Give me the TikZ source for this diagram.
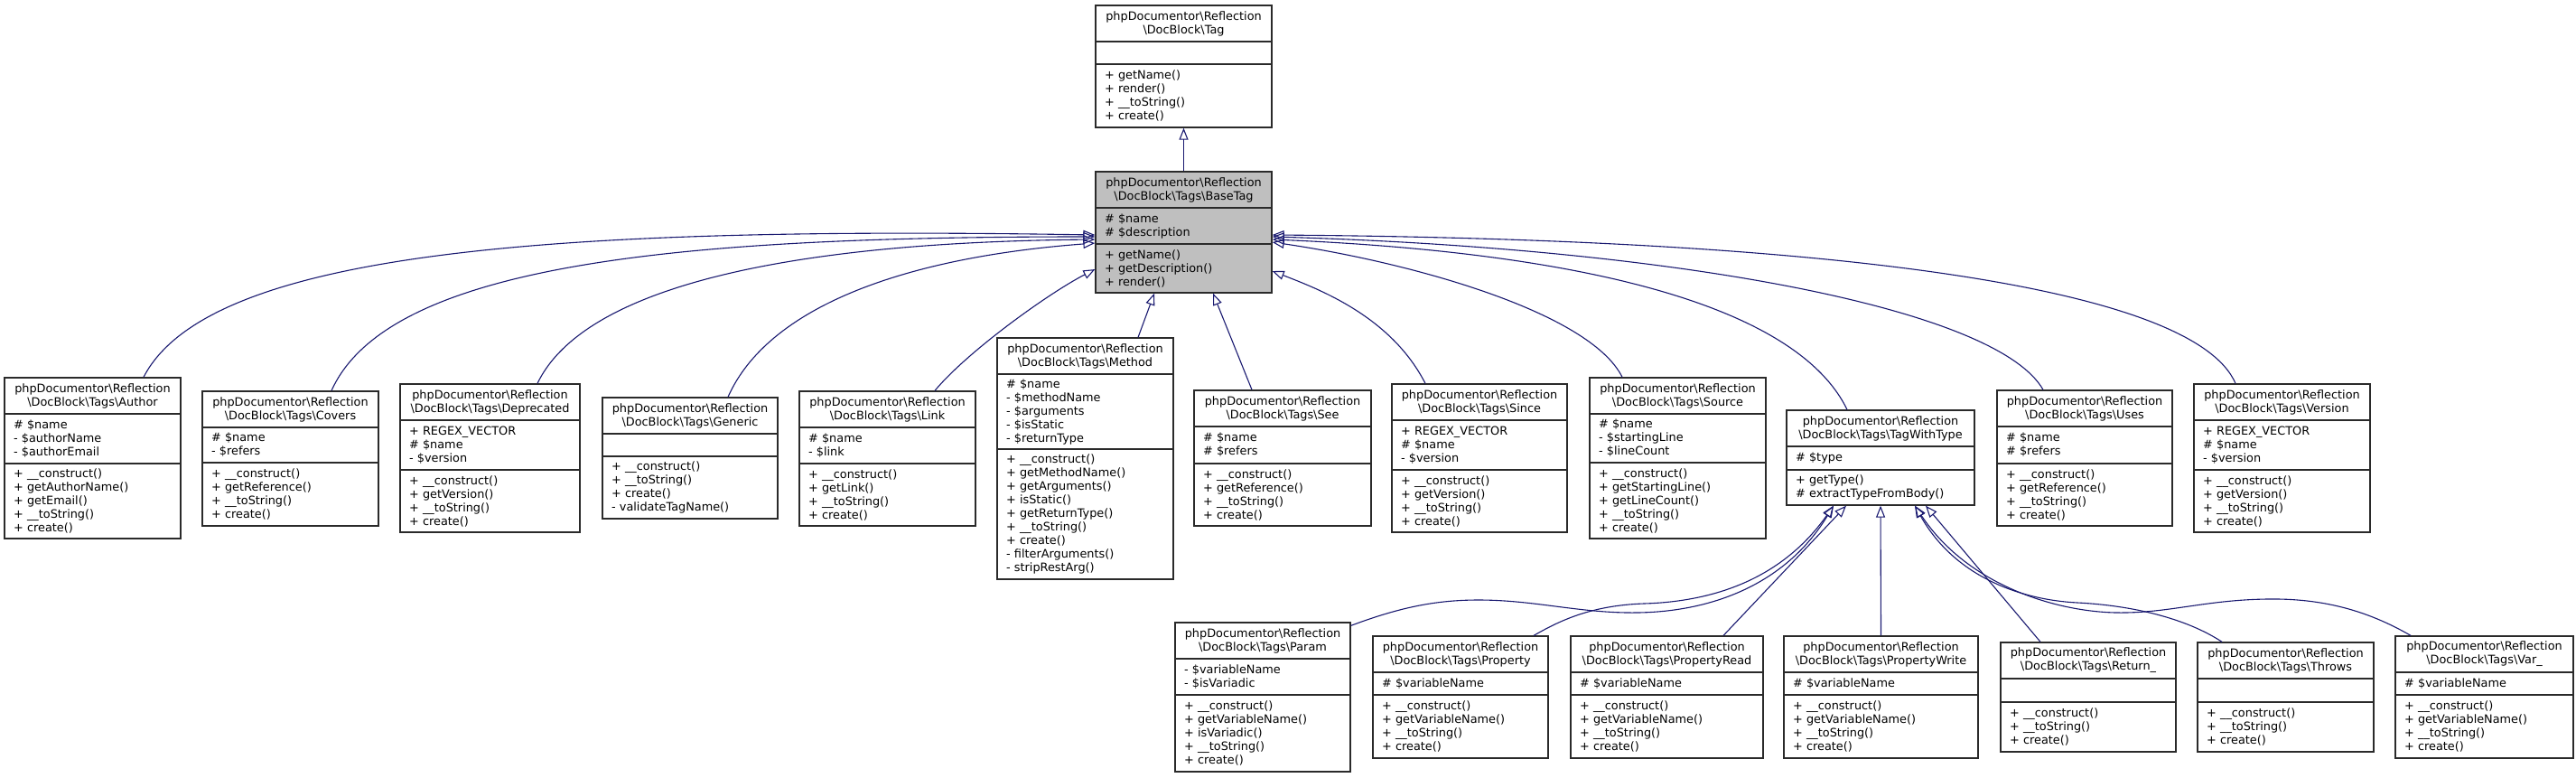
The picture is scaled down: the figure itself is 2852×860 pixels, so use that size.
\documentclass[tikz,border=0pt]{standalone}
\usepackage{fontspec}
\setmainfont{DejaVu Sans}
\usetikzlibrary{arrows.meta,fit}
\definecolor{edgeblue}{HTML}{191970}
\definecolor{basegray}{HTML}{BFBFBF}
\definecolor{boxline}{HTML}{2A2A2A}
\tikzset{
  classbox/.style={draw=boxline, line width=1.3pt, fill=white, inner sep=0pt},
  sectionline/.style={draw=boxline, line width=1.3pt},
  titletext/.style={inner sep=0pt, align=center},
  membertext/.style={inner sep=0pt, align=left, anchor=west},
  inherit/.style={draw=edgeblue, line width=1.1pt, -{Triangle[open, length=13pt, width=10pt]}},
}
% name, left, right, top, attr-line, bottom, title line 2, attributes, operations
\newcommand\umlclass[9]{%
  \node[classbox, fit={(#2,#4) (#3,#6)}] (#1) {};
  \draw[sectionline] (#2,#4+40) -- (#3,#4+40);
  \draw[sectionline] (#2,#5) -- (#3,#5);
  \node[titletext] (#1-title) at ({(#2+#3)/2},#4+20) {phpDocumentor\textbackslash Reflection\\#7};
  \node[membertext] (#1-attrs) at (#2+10,{(#4+40+#5)/2}) {#8};
  \node[membertext] (#1-ops) at (#2+10,{(#5+#6)/2}) {#9};
}
\newcommand\bs{\textbackslash}
\begin{document}
\begin{tikzpicture}[x=1pt, y=-1pt, font=\fontsize{12.85pt}{15pt}\selectfont]
\useasboundingbox[fill=white] (0,0) rectangle (2852,860);

\umlclass{Tag}{1213}{1408}{6}{71}{141}{\bs DocBlock\bs Tag}{}{+ getName()\\+ render()\\+ \_\_toString()\\+ create()}
\begin{scope}[classbox/.append style={fill=basegray}]
\umlclass{BaseTag}{1213}{1408}{190}{270}{324}{\bs DocBlock\bs Tags\bs BaseTag}{\# \$name\\\# \$description}{+ getName()\\+ getDescription()\\+ render()}
\end{scope}

\umlclass{Author}{5}{200}{418}{513}{596}{\bs DocBlock\bs Tags\bs Author}{\# \$name\\- \$authorName\\- \$authorEmail}{+ \_\_construct()\\+ getAuthorName()\\+ getEmail()\\+ \_\_toString()\\+ create()}
\umlclass{Covers}{224}{419}{433}{512}{582}{\bs DocBlock\bs Tags\bs Covers}{\# \$name\\- \$refers}{+ \_\_construct()\\+ getReference()\\+ \_\_toString()\\+ create()}
\umlclass{Deprecated}{443}{642}{425}{520}{589}{\bs DocBlock\bs Tags\bs Deprecated}{+ REGEX\_VECTOR\\\# \$name\\- \$version}{+ \_\_construct()\\+ getVersion()\\+ \_\_toString()\\+ create()}
\umlclass{Generic}{667}{861}{440}{505}{574}{\bs DocBlock\bs Tags\bs Generic}{}{+ \_\_construct()\\+ \_\_toString()\\+ create()\\- validateTagName()}
\umlclass{Link}{885}{1080}{433}{513}{582}{\bs DocBlock\bs Tags\bs Link}{\# \$name\\- \$link}{+ \_\_construct()\\+ getLink()\\+ \_\_toString()\\+ create()}
\umlclass{Method}{1104}{1299}{374}{497}{641}{\bs DocBlock\bs Tags\bs Method}{\# \$name\\- \$methodName\\- \$arguments\\- \$isStatic\\- \$returnType}{+ \_\_construct()\\+ getMethodName()\\+ getArguments()\\+ isStatic()\\+ getReturnType()\\+ \_\_toString()\\+ create()\\- filterArguments()\\- stripRestArg()}
\umlclass{See}{1322}{1518}{432}{513}{582}{\bs DocBlock\bs Tags\bs See}{\# \$name\\\# \$refers}{+ \_\_construct()\\+ getReference()\\+ \_\_toString()\\+ create()}
\umlclass{Since}{1541}{1735}{425}{520}{589}{\bs DocBlock\bs Tags\bs Since}{+ REGEX\_VECTOR\\\# \$name\\- \$version}{+ \_\_construct()\\+ getVersion()\\+ \_\_toString()\\+ create()}
\umlclass{Source}{1760}{1955}{418}{512}{596}{\bs DocBlock\bs Tags\bs Source}{\# \$name\\- \$startingLine\\- \$lineCount}{+ \_\_construct()\\+ getStartingLine()\\+ getLineCount()\\+ \_\_toString()\\+ create()}
\umlclass{TagWithType}{1978}{2186}{454}{520}{559}{\bs DocBlock\bs Tags\bs TagWithType}{\# \$type}{+ getType()\\\# extractTypeFromBody()}
\umlclass{Uses}{2211}{2405}{432}{513}{582}{\bs DocBlock\bs Tags\bs Uses}{\# \$name\\\# \$refers}{+ \_\_construct()\\+ getReference()\\+ \_\_toString()\\+ create()}
\umlclass{Version}{2429}{2624}{425}{520}{589}{\bs DocBlock\bs Tags\bs Version}{+ REGEX\_VECTOR\\\# \$name\\- \$version}{+ \_\_construct()\\+ getVersion()\\+ \_\_toString()\\+ create()}

\umlclass{Param}{1301}{1495}{689}{769}{854}{\bs DocBlock\bs Tags\bs Param}{- \$variableName\\- \$isVariadic}{+ \_\_construct()\\+ getVariableName()\\+ isVariadic()\\+ \_\_toString()\\+ create()}
\umlclass{Property}{1520}{1714}{704}{769}{839}{\bs DocBlock\bs Tags\bs Property}{\# \$variableName}{+ \_\_construct()\\+ getVariableName()\\+ \_\_toString()\\+ create()}
\umlclass{PropertyRead}{1739}{1952}{704}{769}{839}{\bs DocBlock\bs Tags\bs PropertyRead}{\# \$variableName}{+ \_\_construct()\\+ getVariableName()\\+ \_\_toString()\\+ create()}
\umlclass{PropertyWrite}{1975}{2190}{704}{769}{839}{\bs DocBlock\bs Tags\bs PropertyWrite}{\# \$variableName}{+ \_\_construct()\\+ getVariableName()\\+ \_\_toString()\\+ create()}
\umlclass{ReturnC}{2215}{2409}{711}{777}{832}{\bs DocBlock\bs Tags\bs Return\_}{}{+ \_\_construct()\\+ \_\_toString()\\+ create()}
\umlclass{Throws}{2433}{2628}{711}{777}{832}{\bs DocBlock\bs Tags\bs Throws}{}{+ \_\_construct()\\+ \_\_toString()\\+ create()}
\umlclass{VarC}{2652}{2849}{704}{769}{839}{\bs DocBlock\bs Tags\bs Var\_}{\# \$variableName}{+ \_\_construct()\\+ getVariableName()\\+ \_\_toString()\\+ create()}

% inheritance edges
\draw[inherit] (BaseTag.north) -- (Tag.south);

\draw[inherit] ([xshift=56.5pt]Author.north) .. controls (230,280) and (600,250) .. ([yshift=-3pt]BaseTag.west);
\draw[inherit] ([xshift=45.5pt]Covers.north) .. controls (430,292) and (750,262) .. ([yshift=-5pt]BaseTag.west);
\draw[inherit] ([xshift=52.5pt]Deprecated.north) .. controls (650,310) and (900,268) .. ([yshift=-8pt]BaseTag.west);
\draw[inherit] ([xshift=42pt]Generic.north) .. controls (850,340) and (1000,285) .. ([yshift=-12pt]BaseTag.west);
\draw[inherit] ([xshift=52.5pt]Link.north) .. controls (1070,390) and (1160,325) .. ([yshift=-41pt]BaseTag.west);
\draw[inherit] ([xshift=58.5pt]Method.north) -- ([xshift=-32.5pt]BaseTag.south);
\draw[inherit] ([xshift=-34pt]See.north) -- ([xshift=32.5pt]BaseTag.south);
\draw[inherit] ([xshift=-60pt]Since.north) .. controls (1540,350) and (1460,320) .. ([yshift=-43pt]BaseTag.east);
\draw[inherit] ([xshift=-61.5pt]Source.north) .. controls (1760,345) and (1560,290) .. ([yshift=-11pt]BaseTag.east);
\draw[inherit] ([xshift=-37pt]TagWithType.north) .. controls (1990,340) and (1760,280) .. ([yshift=-8pt]BaseTag.east);
\draw[inherit] ([xshift=-46pt]Uses.north) .. controls (2210,340) and (1850,275) .. ([yshift=-5pt]BaseTag.east);
\draw[inherit] ([xshift=-51.5pt]Version.north) .. controls (2430,320) and (2050,265) .. ([yshift=-3pt]BaseTag.east);

\draw[inherit] ([yshift=-4pt]Param.north east) .. controls (1550,672) and (1590,664) .. (1637,664) .. controls (1700,664) and (1750,679) .. (1813,678) .. controls (1890,677) and (1975,650) .. ([xshift=-52pt]TagWithType.south);
\draw[inherit] ([xshift=81pt]Property.north) .. controls (1725,688) and (1760,670) .. (1820,668) .. controls (1890,666) and (1970,645) .. ([xshift=-52pt]TagWithType.south);
\draw[inherit] ([xshift=62.5pt]PropertyRead.north) -- ([xshift=-38pt]TagWithType.south);
\draw[inherit] (PropertyWrite.north) -- (TagWithType.south);
\draw[inherit] ([xshift=-53pt]ReturnC.north) -- ([xshift=50pt]TagWithType.south);
\draw[inherit] ([xshift=-70.5pt]Throws.north) .. controls (2420,684) and (2360,670) .. (2300,667) .. controls (2240,664) and (2165,640) .. ([xshift=38pt]TagWithType.south);
\draw[inherit] ([xshift=-81.5pt]VarC.north) .. controls (2620,675) and (2570,662) .. (2510,663) .. controls (2440,664) and (2400,679) .. (2343,678) .. controls (2280,677) and (2180,650) .. ([xshift=38pt]TagWithType.south);
\end{tikzpicture}
\end{document}
